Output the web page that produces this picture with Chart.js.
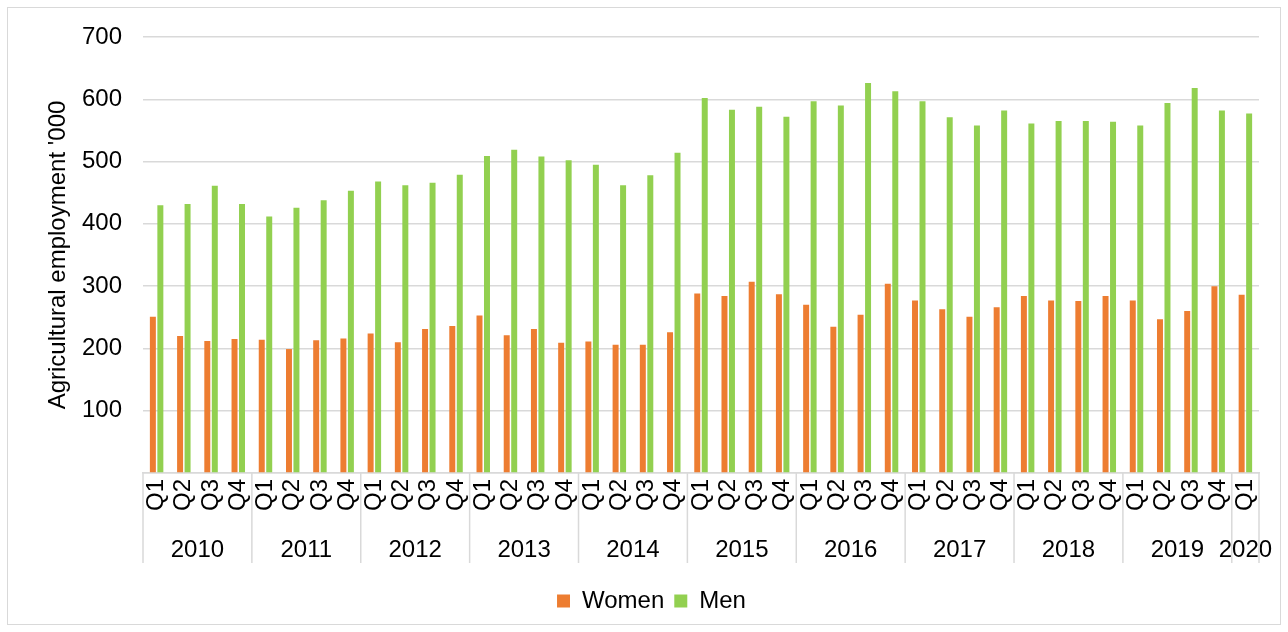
<!DOCTYPE html>
<html>
<head>
<meta charset="utf-8">
<script src="https://cdn.jsdelivr.net/npm/chart.js@4.4.1/dist/chart.umd.min.js"></script>
<style>
  html, body { margin: 0; padding: 0; background: #fff; }
  #wrap { position: relative; width: 1288px; height: 632px; }
  #frame { position: absolute; left: 7px; top: 7px; width: 1272px; height: 616px; border: 1px solid #d9d9d9; pointer-events: none; }
</style>
</head>
<body>
<div id="wrap">
  <canvas id="chart" width="1288" height="632"></canvas>
  <div id="frame"></div>
</div>
<script>
const quarterLabels = [
  "Q1", "Q2", "Q3", "Q4",  "Q1", "Q2", "Q3", "Q4",  "Q1", "Q2", "Q3", "Q4",
  "Q1", "Q2", "Q3", "Q4",  "Q1", "Q2", "Q3", "Q4",  "Q1", "Q2", "Q3", "Q4",
  "Q1", "Q2", "Q3", "Q4",  "Q1", "Q2", "Q3", "Q4",  "Q1", "Q2", "Q3", "Q4",
  "Q1", "Q2", "Q3", "Q4",  "Q1"
]
const yearLabels = ["2010", "2011", "2012", "2013", "2014", "2015", "2016", "2017", "2018", "2019", "2020"]
const yearSpans  = [4, 4, 4, 4, 4, 4, 4, 4, 4, 4, 1]

const women = [
  251, 220, 212, 215,
  214, 199, 213, 216,
  224, 210, 231, 236,
  253, 221, 231, 209,
  211, 206, 206, 226,
  288, 284, 307, 287,
  270, 235, 254, 304,
  277, 263, 251, 266,
  284, 277, 276, 284,
  277, 247, 260, 300,
  286
]
const men = [
  430, 432, 461, 432,
  412, 426, 438, 453,
  468, 462, 466, 479,
  509, 519, 508, 502,
  495, 462, 478, 514,
  602, 583, 588, 572,
  597, 590, 626, 613,
  597, 571, 558, 582,
  561, 565, 565, 564,
  558, 594, 618, 582,
  577
]

const gridColor = "#d9d9d9"
const textColor = "#000000"
const fontFamily = "'Liberation Sans', Arial, sans-serif"
const fontSize = 24

// second level of the category axis: years with separators
const yearAxis = {
  id: "yearAxis",
  afterLayout(chart) {
    // legend in the reference sits a bit right of the canvas centre
    chart.legend.left += 18
    chart.legend.right += 18
  },
  afterDraw(chart) {
    const { ctx, chartArea } = chart
    const x = chart.scales.x
    const half = (x.getPixelForValue(1) - x.getPixelForValue(0)) / 2
    const top = chartArea.bottom
    ctx.save()
    ctx.strokeStyle = gridColor
    ctx.lineWidth = 1.5
    ctx.fillStyle = textColor
    ctx.font = fontSize + "px " + fontFamily
    ctx.textAlign = "center"
    ctx.textBaseline = "middle"
    let idx = 0
    let right = 0
    yearLabels.forEach((year, i) => {
      const left = x.getPixelForValue(idx) - half
      right = x.getPixelForValue(idx + yearSpans[i] - 1) + half
      ctx.beginPath()
      ctx.moveTo(left, top)
      ctx.lineTo(left, top + 90)
      ctx.stroke()
      ctx.fillText(year, (left + right) / 2, top + 77)
      idx += yearSpans[i]
    })
    ctx.beginPath()
    ctx.moveTo(right, top)
    ctx.lineTo(right, top + 90)
    ctx.stroke()
    ctx.restore()
  }
}

Chart.defaults.font.family = fontFamily
Chart.defaults.font.size = fontSize
Chart.defaults.color = textColor

new Chart(document.getElementById("chart"), {
  type: "bar",
  data: {
    labels: quarterLabels,
    datasets: [
      { label: "Women", data: women, backgroundColor: "#ED7D31", categoryPercentage: 0.55, barPercentage: 0.8 },
      { label: "Men",   data: men,   backgroundColor: "#92D050", categoryPercentage: 0.55, barPercentage: 0.8 }
    ]
  },
  options: {
    responsive: false,
    animation: false,
    layout: { padding: { left: 8, right: 29, top: 37, bottom: 9 } },
    plugins: {
      legend: {
        position: "bottom",
        labels: { boxWidth: 13, boxHeight: 13, padding: 10, color: textColor, font: { size: fontSize } }
      },
      tooltip: { enabled: false }
    },
    scales: {
      x: {
        grid: { display: false, drawTicks: false },
        border: { color: gridColor, width: 1.5 },
        ticks: { autoSkip: false, minRotation: 90, maxRotation: 90, padding: 6, color: textColor },
        afterFit: (scale) => { scale.height = 106 }
      },
      y: {
        min: 0,
        max: 700,
        grid: { color: gridColor, lineWidth: 1.5, drawTicks: false },
        border: { display: false },
        ticks: {
          stepSize: 100,
          padding: 21,
          color: textColor,
          callback: (v) => v === 0 ? "" : v
        },
        title: {
          display: true,
          text: "Agricultural employment '000",
          color: textColor,
          font: { size: fontSize },
          padding: { top: 36, bottom: 0 }
        },
        afterFit: (scale) => { scale.width = 135 }
      }
    }
  },
  plugins: [yearAxis]
})
</script>
</body>
</html>
